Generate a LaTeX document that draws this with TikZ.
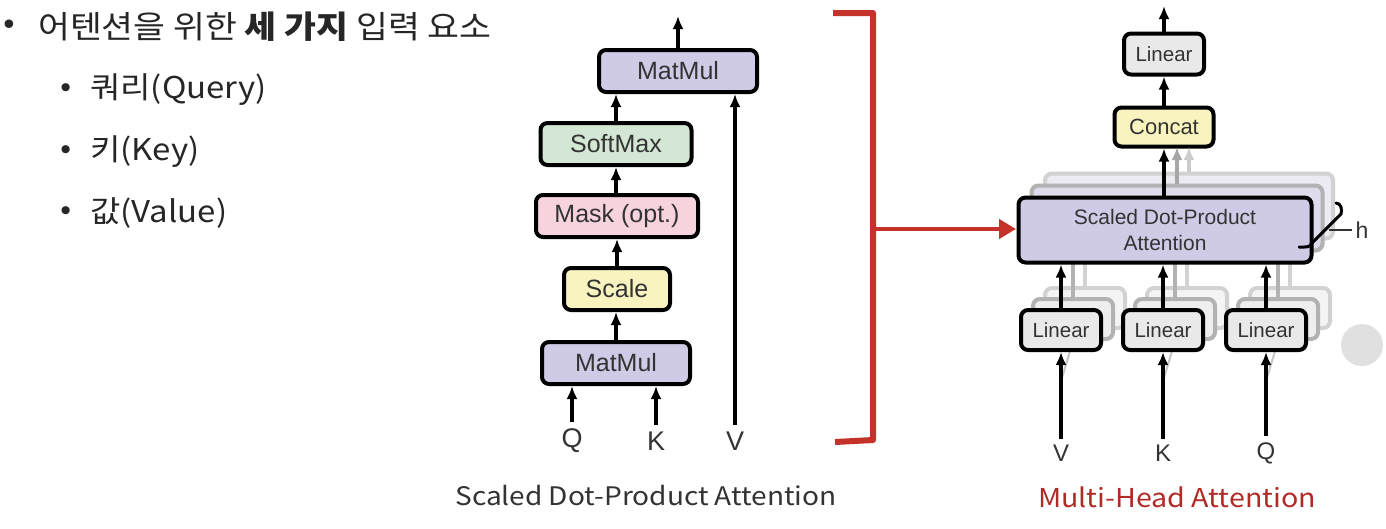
\documentclass[tikz,border=0pt]{standalone}
\usepackage{fontspec}
\usetikzlibrary{arrows.meta}
\newfontfamily\kr{Noto Sans CJK KR}
\newfontfamily\krw{Noto Sans CJK KR}[FakeStretch=1.1]
\newfontfamily\helv{Liberation Sans}
\definecolor{lav}{HTML}{CFCBE6}
\definecolor{lavb}{HTML}{DEDCEC}
\definecolor{lavc}{HTML}{ECEBF3}
\definecolor{grn}{HTML}{D3E7D4}
\definecolor{pnk}{HTML}{F6D3DD}
\definecolor{ylw}{HTML}{F8F3BF}
\definecolor{lgr}{HTML}{E9E9E9}
\definecolor{brk}{HTML}{C4322A}
\definecolor{cap}{HTML}{B02A26}
\definecolor{txt}{HTML}{333333}
\tikzset{
  box/.style={draw=black, line width=4pt, rounded corners=7pt, inner sep=0pt, text=txt},
  lbox/.style={box, font=\helv\fontsize{25}{28}\selectfont},
  rbox/.style={box, font=\helv\fontsize{20.5}{24}\selectfont},
  ghost2/.style={draw=gray!60, line width=4pt, rounded corners=7pt, inner sep=0pt},
  ghost3/.style={draw=gray!35, line width=4pt, rounded corners=7pt, inner sep=0pt},
  arr/.style={line width=3.4pt, -{Latex[length=13pt,width=11pt]}},
  arr2/.style={line width=3.4pt, draw=gray!70, -{Latex[length=13pt,width=11pt]}, color=gray!70},
  arr3/.style={line width=3.4pt, draw=gray!40, -{Latex[length=13pt,width=11pt]}, color=gray!40},
  glin2/.style={line width=3.4pt, draw=gray!60},
  glin3/.style={line width=3.4pt, draw=gray!35},
  io/.style={font=\helv\fontsize{27}{30}\selectfont, text=txt, inner sep=0pt},
  ior/.style={font=\helv\fontsize{24}{28}\selectfont, text=txt, inner sep=0pt},
  bul/.style={font=\krw\fontsize{31.5}{34}\selectfont, anchor=west, inner sep=0pt, text=black!85},
  bulsub/.style={font=\krw\fontsize{30}{32}\selectfont, anchor=west, inner sep=0pt, text=black!85},
}
\begin{document}
\begin{tikzpicture}[x=1pt,y=-1pt]
\useasboundingbox[fill=white] (0,0) rectangle (1386,528);

% ---------- bullets ----------
\node[bul] (b0) at (3,27) {•};
\node[bul] (t0) at (38,27) {어텐션을 위한 {\bfseries 세 가지} 입력 요소};
\node[bulsub] (b1) at (60,90) {•};
\node[bulsub] (t1) at (90,90) {쿼리(Query)};
\node[bulsub] (b2) at (60,152) {•};
\node[bulsub] (t2) at (90,152) {키(Key)};
\node[bulsub] (b3) at (60,213) {•};
\node[bulsub] (t3) at (90,213) {값(Value)};

% ---------- Scaled dot-product attention ----------
\node[lbox, fill=lav, minimum width=158pt, minimum height=42pt] (mm2) at (678,71) {MatMul};
\node[lbox, fill=grn, minimum width=151pt, minimum height=42pt] (sm) at (616,144) {SoftMax};
\node[lbox, fill=pnk, minimum width=162pt, minimum height=42pt] (mask) at (617,216) {Mask (opt.)};
\node[lbox, fill=ylw, minimum width=106pt, minimum height=42pt] (scale) at (617,289) {Scale};
\node[lbox, fill=lav, minimum width=148pt, minimum height=42pt] (mm1) at (616,363) {MatMul};
\node[io] (q) at (572,441) {Q};
\node[io] (k) at (656,441) {K};
\node[io] (v) at (735,441) {V};
\coordinate (out1) at (678,16);
\draw[arr] (mm2.north) -- (out1);
\draw[arr] (sm.north) -- (sm.north |- mm2.south);
\draw[arr] (mask.north -| sm.north) -- (sm.south);
\draw[arr] (scale.north -| mask.south) -- (mask.south);
\draw[arr] (mm1.north) -- (mm1.north |- scale.south);
\draw[arr] ([yshift=7pt]q.north) -- (q.north |- mm1.south);
\draw[arr] ([yshift=7pt]k.north) -- (k.north |- mm1.south);
\draw[arr] ([yshift=7pt]v.north) -- (v.north |- mm2.south);
\node[font=\krw\fontsize{25.5}{28}\selectfont, text=txt] (cap1) at (646,496) {Scaled Dot-Product Attention};

% ---------- red bracket ----------
\coordinate (r1) at (833,13);
\coordinate (r2) at (873,13);
\coordinate (r3) at (873,440);
\coordinate (r4) at (835,442);
\coordinate (rm) at (873,229);
\draw[brk, line width=6pt, line join=round] (r1) -- (r2) -- (r3) -- (r4);
\draw[brk, line width=4.5pt, -{Triangle[length=17pt,width=19pt]}] (rm) -- (1016,229);

% ---------- Multi-head attention ----------
% back layers of SDPA
\node[ghost3, fill=lavc, minimum width=288pt, minimum height=65pt] (sd3) at (1189,206) {};
\node[ghost2, fill=lavb, minimum width=291pt, minimum height=65pt] (sd2) at (1177,218) {};
% back layers of linears
\foreach \n/\cx in {a/1061,b/1163,c/1266}{
  \node[ghost3, fill=lgr!50, minimum width=80pt, minimum height=40pt] (\n3) at (\cx+24,330-22) {};
  \node[ghost2, fill=lgr!75, minimum width=80pt, minimum height=40pt] (\n2) at (\cx+12,330-11) {};
  \draw[glin3] (\n3.north) -- ++(0,-50);
  \draw[glin2] (\n2.north) -- ++(0,-50);
  \draw[line width=2pt, gray!45] (\cx+1,378) -- (\n2.south);
}
\node[box, fill=lav, minimum width=293pt, minimum height=65pt, align=center,
      font=\helv\fontsize{21}{26}\selectfont] (sd) at (1165,230) {Scaled Dot-Product\\Attention};
\node[rbox, fill=lgr, minimum width=80pt, minimum height=40pt] (la) at (1061,330) {Linear};
\node[rbox, fill=lgr, minimum width=80pt, minimum height=40pt] (lb) at (1163,330) {Linear};
\node[rbox, fill=lgr, minimum width=80pt, minimum height=40pt] (lc) at (1266,330) {Linear};
\node[rbox, fill=ylw, minimum width=99pt, minimum height=39pt, font=\helv\fontsize{22}{26}\selectfont] (cc) at (1164,127) {Concat};
\node[rbox, fill=lgr, minimum width=80pt, minimum height=41pt] (lt) at (1164,54) {Linear};
\coordinate (out2) at (1164,6);
\draw[arr] (lt.north) -- (out2);
\draw[arr] (cc.north) -- (lt.south);
\draw[arr] (sd.north -| cc.south) -- (cc.south);
\draw[arr2] (sd2.north -| 1177,0) -- (1177,147);
\draw[arr3] (sd3.north -| 1189,0) -- (1189,147);
\draw[arr] (la.north) -- (la.north |- sd.south);
\draw[arr] (lb.north) -- (lb.north |- sd.south);
\draw[arr] (lc.north) -- (lc.north |- sd.south);
\node[ior] (v2) at (1061,453) {V};
\node[ior] (k2) at (1163,453) {K};
\node[ior] (q2) at (1266,453) {Q};
\foreach \s/\t in {v2/la,k2/lb,q2/lc}{
  \draw[arr] ([yshift=6pt]\s.north) -- (\s.north |- \t.south);
}
% h brace
\coordinate (h1) at (1336,203);
\coordinate (h2) at (1299,247);
\draw[line width=3pt, line cap=round] (h1) to[out=0,in=70] (1341,214) -- (1312,243) to[out=250,in=0] (h2);
\node[font=\helv\fontsize{23}{26}\selectfont, text=txt, inner sep=0pt] (hl) at (1362,230) {h};
\draw[line width=2pt, txt] (1329,230) -- ([xshift=-3pt]hl.west);
\node[font=\krw\fontsize{26}{30}\selectfont, text=cap] (cap2) at (1177,497) {Multi-Head Attention};

% UI circle at right edge
\node[circle, fill=black!12, minimum size=42pt, inner sep=0pt] (ui) at (1362,345) {};
\end{tikzpicture}
\end{document}
